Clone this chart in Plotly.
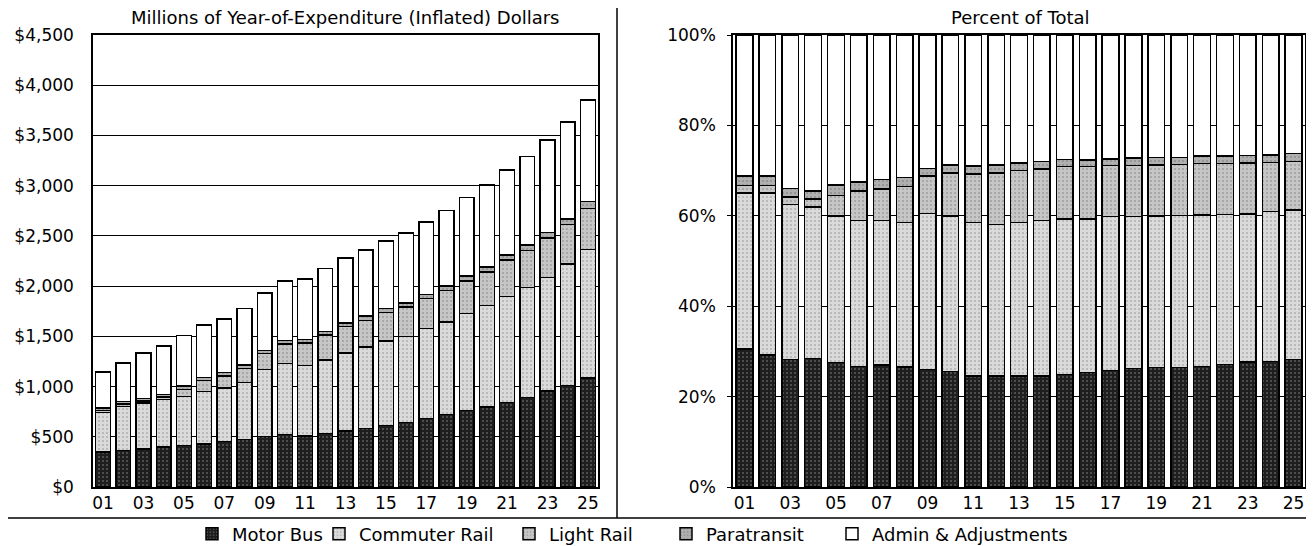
import numpy as np
import plotly.graph_objects as go

# fiscal years 2001-2025
years = ['%02d' % i for i in range(1, 26)]

# millions of year-of-expenditure dollars
motor_bus = [349, 361, 376, 400, 415, 430, 452, 472, 502, 523, 507, 533, 559,
             581, 610, 640, 681, 721, 760, 796, 842, 892, 954, 1011, 1087]
commuter_rail = [395, 442, 458, 471, 488, 523, 536, 566, 666, 707, 704, 729, 775,
                 812, 843, 860, 898, 924, 968, 1010, 1057, 1092, 1133, 1207, 1276]
light_rail = [19, 21, 23, 25, 68, 105, 117, 142, 160, 195, 221, 250, 262,
              267, 284, 293, 298, 311, 323, 337, 360, 372, 390, 393, 412]
paratransit = [24, 26, 24, 24, 35, 32, 34, 36, 33, 35, 37, 37, 39,
               40, 39, 38, 40, 47, 49, 48, 50, 53, 55, 58, 69]
admin = [357, 385, 454, 485, 500, 525, 536, 559, 569, 590, 600, 626, 645,
         661, 674, 698, 723, 748, 780, 814, 846, 882, 922, 967, 1010]

# fill colour and speckle colour for each mode
series = [
    ('Motor Bus', motor_bus, '#1e1e1e', '#9a9a9a'),
    ('Commuter Rail', commuter_rail, '#dadada', '#858585'),
    ('Light Rail', light_rail, '#c6c6c6', '#777777'),
    ('Paratransit', paratransit, '#b0b0b0', '#6a6a6a'),
    ('Admin & Adjustments', admin, '#ffffff', '#ffffff'),
]

totals = np.sum([np.array(s[1]) for s in series], axis=0)

W, H = 1314, 546
OFF = 8  # page body margin, the page is drawn 8px in from the window corner


def px(x):
    return (x - OFF) / W


def py(y):
    return 1 - (y - OFF) / H


legend_names = ['legend', 'legend2', 'legend3', 'legend4', 'legend5']
legend_text_x = [228, 355, 545, 702, 868]

fig = go.Figure()

for i, (name, vals, col, dots) in enumerate(series):
    marker = dict(color=col, line=dict(color='black', width=1.5),
                  pattern=dict(shape='.', fgcolor=dots, bgcolor=col, size=4, solidity=0.2))
    # left: dollars
    fig.add_trace(go.Bar(x=years, y=vals, name=name, marker=marker,
                         xaxis='x', yaxis='y', legendgroup=name, legend=legend_names[i]))
    # right: share of total
    pct = np.array(vals) / totals * 100
    fig.add_trace(go.Bar(x=years, y=pct, name=name, marker=marker,
                         xaxis='x2', yaxis='y2', legendgroup=name, showlegend=False))

font = dict(family='DejaVu Sans, Verdana, sans-serif', size=17, color='black')

axis_common = dict(showline=True, linecolor='black', linewidth=1.5, mirror=True,
                   tickfont=dict(size=17), automargin=False)

layout_legends = {}
for i, ln in enumerate(legend_names):
    layout_legends[ln] = dict(orientation='h', x=px(legend_text_x[i] - 36), xanchor='left',
                              y=py(534), yanchor='middle', bgcolor='rgba(0,0,0,0)',
                              font=dict(size=18), itemwidth=30)

fig.update_layout(
    width=W, height=H,
    barmode='stack', bargap=0.27,
    plot_bgcolor='white', paper_bgcolor='white',
    font=font,
    margin=dict(l=0, r=0, t=0, b=0),
    xaxis=dict(domain=[px(93), px(598)], anchor='y', tickvals=years[::2], showgrid=False, ticks='', **axis_common),
    yaxis=dict(domain=[py(487), py(35)], anchor='x', range=[0, 4500], dtick=500, tickprefix='$', tickformat=',',
               showgrid=True, gridcolor='black', gridwidth=1, ticks='', ticklabelstandoff=14, **axis_common),
    xaxis2=dict(domain=[px(733), px(1305)], anchor='y2', tickvals=years[::2], showgrid=False, ticks='', **axis_common),
    yaxis2=dict(domain=[py(487), py(35)], anchor='x2', range=[0, 100], dtick=20, ticksuffix='%',
                showgrid=True, gridcolor='black', gridwidth=1, ticks='outside', ticklen=4, tickcolor='black',
                ticklabelstandoff=8, **axis_common),
    annotations=[
        dict(text='Millions of Year-of-Expenditure (Inflated) Dollars', x=px(345), y=py(17),
             xanchor='center', yanchor='middle',
             xref='paper', yref='paper', showarrow=False, font=dict(size=18)),
        dict(text='Percent of Total', x=px(1020), y=py(17), xanchor='center', yanchor='middle',
             xref='paper', yref='paper', showarrow=False, font=dict(size=18)),
    ],
    shapes=[
        dict(type='line', xref='paper', yref='paper', x0=px(617), x1=px(617), y0=py(518), y1=1,
             line=dict(color='black', width=1.5)),
        dict(type='line', xref='paper', yref='paper', x0=0, x1=1, y0=py(518), y1=py(518),
             line=dict(color='black', width=1.5)),
    ],
    **layout_legends,
)

fig.write_html("out.html")
